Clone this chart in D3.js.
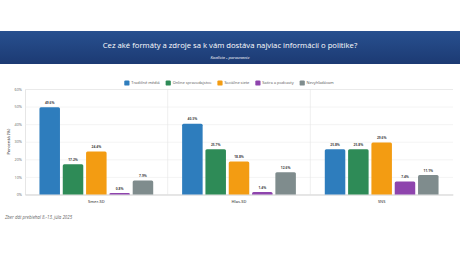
<!DOCTYPE html>
<html><head><meta charset="utf-8">
<script src="https://cdn.jsdelivr.net/npm/d3@7"></script>
<style>html,body{margin:0;padding:0;background:#fff;}svg{display:block;font-family:"Open Sans","Noto Sans",sans-serif;}</style>
</head><body>
<svg id="c" width="460" height="260"></svg>
<script>
const title = "Cez aké formáty a zdroje sa k vám dostáva najviac informácií o politike?";
const subtitle = "Koalícia - porovnanie";
const footnote = "Zber dát prebiehal 8.-13. júla 2025";
const yTitle = "Percentá (%)";
const categories = ["Smer-SD", "Hlas-SD", "SNS"];
const seriesNames = ["Tradičné médiá", "Online spravodajstvo", "Sociálne siete", "Satira a podcasty", "Nevyhľadávam"];
const seriesColors = ["#2e7dbd", "#2e8b57", "#f39c12", "#8e44ad", "#7f8c8d"];
const tradicne = [49.6, 40.3, 25.8];
const online = [17.2, 25.7, 25.8];
const socialne = [24.4, 18.8, 29.6];
const satira = [0.8, 1.4, 7.4];
const nevyhladavam = [7.9, 12.6, 11.1];
const yTicks = [0, 10, 20, 30, 40, 50, 60];

const seriesValues = [tradicne, online, socialne, satira, nevyhladavam];
const svg = d3.select("#c");

// header band
const defs = svg.append("defs");
const g = defs.append("linearGradient").attr("id","hdr").attr("x1",0).attr("y1",0).attr("x2",0).attr("y2",1);
g.append("stop").attr("offset","0%").attr("stop-color","#28508f");
g.append("stop").attr("offset","100%").attr("stop-color","#1c3a73");
svg.append("rect").attr("x",0).attr("y",31).attr("width",460).attr("height",33).attr("fill","url(#hdr)");
svg.append("text").attr("x",230).attr("y",48).attr("text-anchor","middle").attr("fill","#fff")
  .attr("font-size",7.7).text(title);
svg.append("text").attr("x",230).attr("y",58.5).attr("text-anchor","middle").attr("fill","#fff")
  .attr("font-size",4.2).attr("font-style","italic").text(subtitle);

// chart
const m = {left:25, right:453, top:89, bottom:194.5};
const x0 = d3.scaleBand().domain(categories).range([m.left, m.right]).paddingInner(0).paddingOuter(0);
const x1 = d3.scaleBand().domain(seriesNames).range([0, x0.bandwidth()]).paddingInner(0.12).paddingOuter(0.62);
const y = d3.scaleLinear().domain([0,60]).range([m.bottom, m.top]);

// grid
const yAxis = d3.axisLeft(y).tickValues(yTicks).tickFormat(d => d + "%").tickSize(-(m.right-m.left)).tickPadding(3);
const ya = svg.append("g").attr("transform",`translate(${m.left},0)`).call(yAxis);
ya.select(".domain").attr("stroke","#d5d5d5").attr("stroke-width",0.6);
ya.selectAll(".tick line").attr("stroke","#ececec").attr("stroke-width",0.6);
ya.selectAll(".tick text").attr("font-size",3.8).attr("fill","#666").attr("font-family","'Open Sans',sans-serif");

// category separators
svg.append("g").selectAll("line").data(categories.slice(1)).join("line")
  .attr("x1", d => x0(d)).attr("x2", d => x0(d)).attr("y1", m.top).attr("y2", m.bottom)
  .attr("stroke","#e6e6e6").attr("stroke-width",0.6);

// x axis
const xa = svg.append("g").attr("transform",`translate(0,${m.bottom})`).call(d3.axisBottom(x0).tickSize(0).tickPadding(6));
xa.select(".domain").attr("stroke","#cfcfcf").attr("stroke-width",0.6);
xa.selectAll(".tick text").attr("font-size",4).attr("fill","#555").attr("font-weight","600").attr("font-family","'Open Sans',sans-serif");

// y title
svg.append("text").attr("transform",`translate(10,${(m.top+m.bottom)/2}) rotate(-90)`)
  .attr("text-anchor","middle").attr("font-size",4.3).attr("fill","#555").attr("font-weight","600").text(yTitle);

// bars
const rows = [];
categories.forEach((c,i) => seriesNames.forEach((s,j) => rows.push({c, s, v: seriesValues[j][i], col: seriesColors[j]})));
const bw = x1.bandwidth();
function barPath(d){
  const xL = x0(d.c) + x1(d.s), xR = xL + bw, yT = y(d.v), yB = y(0);
  const r = Math.min(1.5, (yB-yT));
  return `M${xL},${yB}V${yT+r}Q${xL},${yT} ${xL+r},${yT}H${xR-r}Q${xR},${yT} ${xR},${yT+r}V${yB}Z`;
}
svg.append("g").selectAll("path").data(rows).join("path").attr("d", barPath).attr("fill", d => d.col);
svg.append("g").selectAll("text").data(rows).join("text")
  .attr("x", d => x0(d.c) + x1(d.s) + bw/2).attr("y", d => y(d.v) - 3.2)
  .attr("text-anchor","middle").attr("font-size",3.3).attr("font-weight","700").attr("fill","#444")
  .text(d => d.v.toFixed(1) + "%");

// legend
const legend = svg.append("g");
let lx = 0;
seriesNames.forEach((s,j) => {
  const it = legend.append("g");
  it.append("rect").attr("x",0).attr("y",-2.6).attr("width",5.2).attr("height",5.2).attr("rx",1.2).attr("fill",seriesColors[j]);
  const t = it.append("text").attr("x",7).attr("y",1.4).attr("font-size",3.95).attr("fill","#555").text(s);
  const w = 7 + t.node().getComputedTextLength();
  it.attr("transform",`translate(${lx},0)`);
  lx += w + 6;
});
lx -= 6;
legend.attr("transform",`translate(${229 - lx/2},83)`);

// footnote
svg.append("text").attr("x",5).attr("y",219).attr("font-size",4.4).attr("font-style","italic").attr("fill","#666").text(footnote);
</script>
</body></html>
